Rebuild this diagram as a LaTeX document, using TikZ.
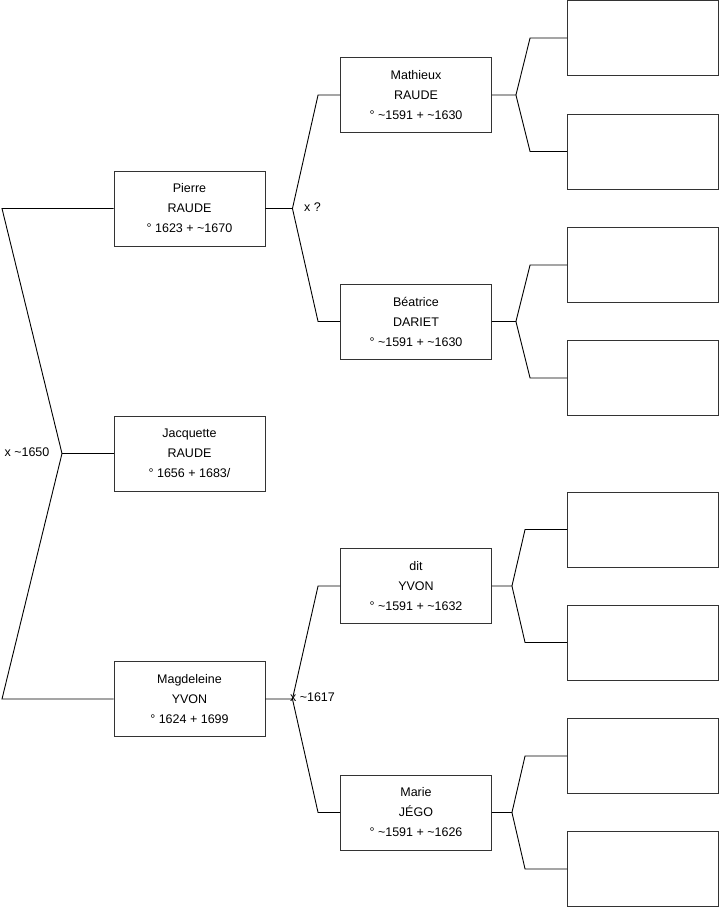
\documentclass[tikz,border=0pt]{standalone}
\usepackage{fontspec}
\setmainfont{Liberation Sans}
\usetikzlibrary{positioning}
\newcommand{\apx}{\textasciitilde}
\tikzset{
  personbox/.style={draw=black!80,line width=0.9pt,fill=white,minimum width=151pt,
    minimum height=75pt,inner sep=0pt,align=center,font=\fontsize{12.5}{20}\selectfont},
  emptybox/.style={personbox},
  link/.style={black,line width=0.9pt},
  union/.style={inner sep=0pt,font=\fontsize{12.5}{14}\selectfont}
}

\begin{document}
\begin{tikzpicture}[x=1pt,y=-1pt]
  \useasboundingbox (0,0) rectangle (719,908);
  % generation 1
  \node[personbox] (pierre) at (189.5,208.5) {Pierre\\RAUDE\\° 1623 + \apx1670};
  \node[personbox] (jacquette) at (189.5,453.5) {Jacquette\\RAUDE\\° 1656 + 1683/};
  \node[personbox] (magdeleine) at (189.5,699) {Magdeleine\\YVON\\° 1624 + 1699};
  % generation 2
  \node[personbox] (mathieux) at (416,95) {Mathieux\\RAUDE\\° \apx1591 + \apx1630};
  \node[personbox] (beatrice) at (416,321.5) {Béatrice\\DARIET\\° \apx1591 + \apx1630};
  \node[personbox] (dit) at (416,586) {dit\\YVON\\° \apx1591 + \apx1632};
  \node[personbox] (marie) at (416,812.5) {Marie\\JÉGO\\° \apx1591 + \apx1626};
  % generation 3 (empty)
  \foreach \i/\y in {1/38,2/151.5,3/265,4/378,5/529.5,6/642.5,7/756,8/869}{
    \node[emptybox] (e\i) at (643,\y) {};}
  % fork of the children
  \coordinate (top0) at (2,208.5);
  \coordinate (fork0) at (62,453.5);
  \coordinate (bot0) at (2,699);
  \draw[link] (pierre.west) -- (top0) -- (fork0) -- (bot0) -- (magdeleine.west);
  \draw[link] (fork0) -- (jacquette.west);
  \node[union] (u0) at (27,452) {x \apx1650};
  % forks of the parents
  \foreach \c/\f/\m/\x/\a/\b in {pierre/mathieux/beatrice/x ?/fork1/u1,
                                 magdeleine/dit/marie/x \apx1617/fork2/u2}{
    \coordinate (\a) at ([xshift=27pt]\c.east);
    \draw[link] (\c.east) -- (\a) -- ([xshift=-22pt]\f.west) -- (\f.west);
    \draw[link] (\a) -- ([xshift=-22pt]\m.west) -- (\m.west);
    \node[union] (\b) at ([xshift=20pt,yshift=1.5pt]\a) {\x};}
  % forks of the grandparents
  \foreach \c/\s/\t/\w/\d in {mathieux/e1/e2/24/37,beatrice/e3/e4/24/37,
                              dit/e5/e6/20/42,marie/e7/e8/20/42}{
    \coordinate (g\c) at ([xshift=\w pt]\c.east);
    \draw[link] (\c.east) -- (g\c) -- ([xshift=-\d pt]\s.west) -- (\s.west);
    \draw[link] (g\c) -- ([xshift=-\d pt]\t.west) -- (\t.west);}
\end{tikzpicture}
\end{document}
